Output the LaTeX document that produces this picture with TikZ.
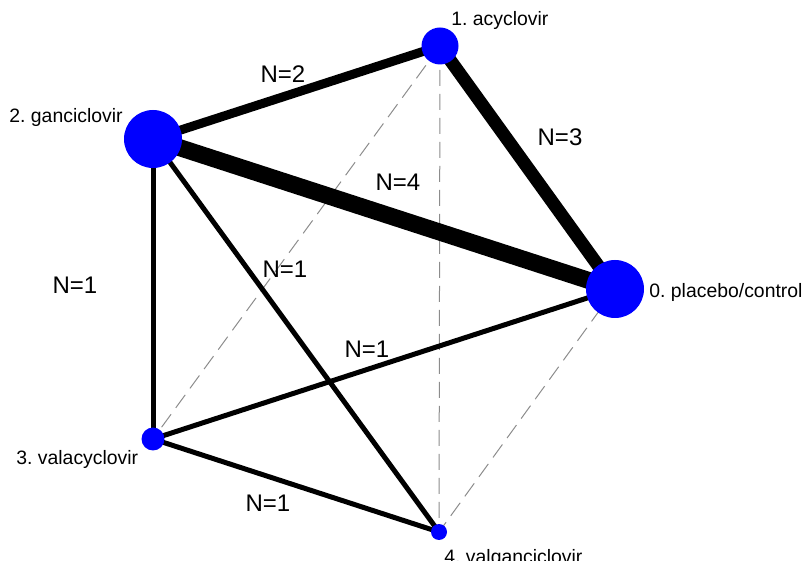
\documentclass[tikz,border=0pt]{standalone}
\usepackage{fontspec}
\setmainfont{Liberation Sans}
\usetikzlibrary{backgrounds}
\frenchspacing

\begin{document}
\begin{tikzpicture}[
    x=0.5pt, y=-0.5pt,
    treat/.style={circle, fill=blue, inner sep=0pt},
    tlabel/.style={inner sep=0pt, anchor=base west, font=\fontsize{9.7}{11}\selectfont},
    nlabel/.style={inner sep=0pt, font=\fontsize{12}{14}\selectfont},
    direct/.style={draw=black, line cap=butt},
    indirect/.style={draw=black!45, line width=0.5pt, dash pattern=on 8pt off 4pt}
]
    \useasboundingbox (0,0) rectangle (804,561);

    % treatments
    \node (plac) [treat, minimum size=29pt] at (615,289) {};
    \node (acyc) [treat, minimum size=18.5pt] at (440,46) {};
    \node (ganc) [treat, minimum size=29pt] at (153,139) {};
    \node (vala) [treat, minimum size=11.5pt] at (153,439) {};
    \node (valg) [treat, minimum size=8pt] at (439,532) {};

    \node (placlab) [tlabel] at (649,298) {0. placebo/control};
    \node (acyclab) [tlabel] at (451,26) {1. acyclovir};
    \node (ganclab) [tlabel] at (9,123) {2. ganciclovir};
    \node (valalab) [tlabel] at (16,465) {3. valacyclovir};
    \node (valglab) [tlabel] at (444,563) {4. valganciclovir};

    % comparisons
    \begin{scope}[on background layer]
        \draw [indirect] (acyc.center) -- (vala.center);
        \draw [indirect] (acyc.center) -- (valg.center);
        \draw [indirect] (plac.center) -- (valg.center);
        \draw [direct, line width=2.5pt] (ganc.center) -- (vala.center);
        \draw [direct, line width=2.5pt] (ganc.center) -- (valg.center);
        \draw [direct, line width=2.5pt] (vala.center) -- (plac.center);
        \draw [direct, line width=2.5pt] (vala.center) -- (valg.center);
        \draw [direct, line width=4.5pt] (ganc.center) -- (acyc.center);
        \draw [direct, line width=6.5pt] (acyc.center) -- (plac.center);
        \draw [direct, line width=8.5pt] (ganc.center) -- (plac.center);
    \end{scope}

    \node (n21) [nlabel] at (283,74) {N=2};
    \node (n10) [nlabel] at (560,137) {N=3};
    \node (n20) [nlabel] at (398,182) {N=4};
    \node (n23) [nlabel] at (75,285) {N=1};
    \node (n24) [nlabel] at (285,269) {N=1};
    \node (n30) [nlabel] at (367,349) {N=1};
    \node (n34) [nlabel] at (268,503) {N=1};
\end{tikzpicture}
\end{document}
